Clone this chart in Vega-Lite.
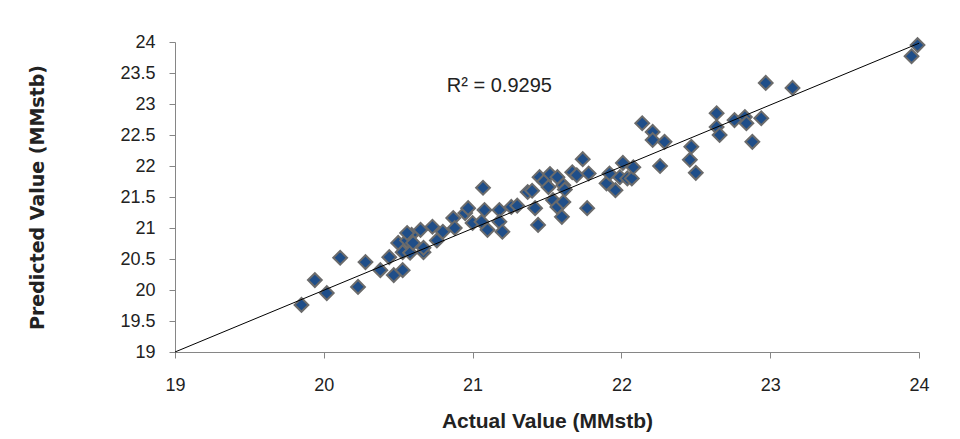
{
  "$schema": "https://vega.github.io/schema/vega-lite/v6.json",
  "width": 744,
  "height": 310,
  "autosize": {"type": "none"},
  "padding": {"left": 175, "top": 42, "right": 41, "bottom": 87},
  "background": "white",
  "config": {"view": {"stroke": null}},
  "datasets": {
    "pts": [
      {"actual": 19.85, "predicted": 19.76},
      {"actual": 19.94, "predicted": 20.16},
      {"actual": 20.02, "predicted": 19.95},
      {"actual": 20.11, "predicted": 20.52},
      {"actual": 20.23, "predicted": 20.05},
      {"actual": 20.28, "predicted": 20.45},
      {"actual": 20.38, "predicted": 20.32},
      {"actual": 20.44, "predicted": 20.53},
      {"actual": 20.47, "predicted": 20.24},
      {"actual": 20.53, "predicted": 20.32},
      {"actual": 20.50, "predicted": 20.76},
      {"actual": 20.53, "predicted": 20.61},
      {"actual": 20.56, "predicted": 20.80},
      {"actual": 20.58, "predicted": 20.60},
      {"actual": 20.59, "predicted": 20.89},
      {"actual": 20.56, "predicted": 20.92},
      {"actual": 20.60, "predicted": 20.76},
      {"actual": 20.65, "predicted": 20.97},
      {"actual": 20.67, "predicted": 20.61},
      {"actual": 20.67, "predicted": 20.68},
      {"actual": 20.73, "predicted": 21.02},
      {"actual": 20.76, "predicted": 20.80},
      {"actual": 20.80, "predicted": 20.94},
      {"actual": 20.87, "predicted": 21.16},
      {"actual": 20.88, "predicted": 21.00},
      {"actual": 20.95, "predicted": 21.24},
      {"actual": 20.97, "predicted": 21.32},
      {"actual": 21.00, "predicted": 21.08},
      {"actual": 21.06, "predicted": 21.10},
      {"actual": 21.07, "predicted": 21.65},
      {"actual": 21.08, "predicted": 21.29},
      {"actual": 21.10, "predicted": 20.97},
      {"actual": 21.18, "predicted": 21.29},
      {"actual": 21.18, "predicted": 21.10},
      {"actual": 21.20, "predicted": 20.94},
      {"actual": 21.26, "predicted": 21.34},
      {"actual": 21.30, "predicted": 21.36},
      {"actual": 21.37, "predicted": 21.58},
      {"actual": 21.40, "predicted": 21.60},
      {"actual": 21.42, "predicted": 21.32},
      {"actual": 21.44, "predicted": 21.05},
      {"actual": 21.45, "predicted": 21.82},
      {"actual": 21.48, "predicted": 21.75},
      {"actual": 21.51, "predicted": 21.66},
      {"actual": 21.52, "predicted": 21.87},
      {"actual": 21.54, "predicted": 21.45},
      {"actual": 21.57, "predicted": 21.82},
      {"actual": 21.57, "predicted": 21.34},
      {"actual": 21.60, "predicted": 21.18},
      {"actual": 21.61, "predicted": 21.69},
      {"actual": 21.61, "predicted": 21.42},
      {"actual": 21.62, "predicted": 21.62},
      {"actual": 21.67, "predicted": 21.90},
      {"actual": 21.70, "predicted": 21.85},
      {"actual": 21.74, "predicted": 22.11},
      {"actual": 21.77, "predicted": 21.32},
      {"actual": 21.78, "predicted": 21.88},
      {"actual": 21.90, "predicted": 21.72},
      {"actual": 21.92, "predicted": 21.88},
      {"actual": 21.96, "predicted": 21.61},
      {"actual": 21.99, "predicted": 21.82},
      {"actual": 22.01, "predicted": 22.05},
      {"actual": 22.04, "predicted": 21.80},
      {"actual": 22.07, "predicted": 21.80},
      {"actual": 22.08, "predicted": 21.98},
      {"actual": 22.14, "predicted": 22.69},
      {"actual": 22.21, "predicted": 22.55},
      {"actual": 22.21, "predicted": 22.42},
      {"actual": 22.26, "predicted": 22.00},
      {"actual": 22.29, "predicted": 22.39},
      {"actual": 22.46, "predicted": 22.10},
      {"actual": 22.47, "predicted": 22.31},
      {"actual": 22.50, "predicted": 21.89},
      {"actual": 22.64, "predicted": 22.85},
      {"actual": 22.64, "predicted": 22.63},
      {"actual": 22.66, "predicted": 22.50},
      {"actual": 22.76, "predicted": 22.74},
      {"actual": 22.83, "predicted": 22.79},
      {"actual": 22.84, "predicted": 22.69},
      {"actual": 22.88, "predicted": 22.39},
      {"actual": 22.94, "predicted": 22.77},
      {"actual": 22.97, "predicted": 23.34},
      {"actual": 23.15, "predicted": 23.26},
      {"actual": 23.95, "predicted": 23.77},
      {"actual": 23.99, "predicted": 23.95}
    ],
    "trend": [
      {"actual": 19, "predicted": 19.0},
      {"actual": 24, "predicted": 23.98}
    ],
    "label": [
      {"actual": 21.18, "predicted": 23.29, "text": "R² = 0.9295"}
    ]
  },
  "encoding": {
    "x": {"field": "actual", "type": "quantitative", "scale": {"domain": [19, 24], "nice": false, "zero": false},
      "axis": {"title": "Actual Value (MMstb)", "values": [19, 20, 21, 22, 23, 24], "grid": false, "labelOverlap": false, "labelFlush": false,
        "domainColor": "#868686", "tickColor": "#868686", "tickSize": 6, "labelPadding": 18,
        "labelFont": "Liberation Sans", "labelFontSize": 18, "labelColor": "#222222",
        "titleFont": "Liberation Sans", "titleFontSize": 21, "titleFontWeight": "bold", "titleColor": "#222222", "titlePadding": 16}},
    "y": {"field": "predicted", "type": "quantitative", "scale": {"domain": [19, 24], "nice": false, "zero": false},
      "axis": {"title": "Predicted Value (MMstb)", "values": [19, 19.5, 20, 20.5, 21, 21.5, 22, 22.5, 23, 23.5, 24], "labelExpr": "format(datum.value, '.1~f')", "grid": false, "labelOverlap": false, "labelFlush": false,
        "domainColor": "#868686", "tickColor": "#868686", "tickSize": 6, "labelPadding": 14,
        "labelFont": "Liberation Sans", "labelFontSize": 18, "labelColor": "#222222",
        "titleFont": "DejaVu Sans", "titleFontSize": 19, "titleFontWeight": "bold", "titleColor": "#222222", "titlePadding": 72}}
  },
  "layer": [
    {
      "data": {"name": "pts"},
      "mark": {"type": "point", "shape": "diamond", "filled": true, "size": 190, "fill": "#1f4e89", "stroke": "#6b6b6b", "strokeWidth": 2, "opacity": 1}
    },
    {
      "data": {"name": "trend"},
      "mark": {"type": "line", "color": "#000000", "strokeWidth": 1}
    },
    {
      "data": {"name": "label"},
      "mark": {"type": "text", "font": "Liberation Sans", "fontSize": 20, "color": "#222222", "align": "center", "baseline": "middle"},
      "encoding": {
        "text": {"field": "text"}
      }
    }
  ]
}
